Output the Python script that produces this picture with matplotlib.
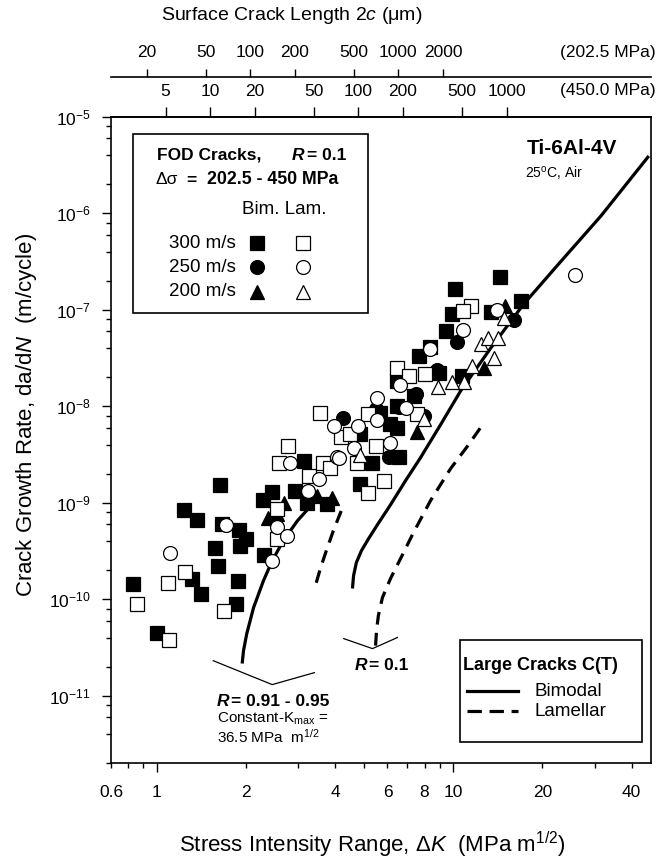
import matplotlib
matplotlib.use('Agg')
import matplotlib.pyplot as plt
from matplotlib.lines import Line2D
from matplotlib.patches import Rectangle
from matplotlib.ticker import NullFormatter, NullLocator
import numpy as np

plt.rcParams['font.family'] = ['Liberation Sans', 'DejaVu Sans']
plt.rcParams['mathtext.fontset'] = 'custom'
plt.rcParams['mathtext.rm'] = 'Liberation Sans'
plt.rcParams['mathtext.it'] = 'Liberation Sans:italic'
plt.rcParams['mathtext.bf'] = 'Liberation Sans:bold'

# ---- small-crack data (FOD cracks), dK in MPa m^1/2, da/dN in m/cycle ----
bim300_dk = [0.83, 1.0, 1.23, 1.37, 1.63, 1.57, 1.61, 1.66, 1.89, 1.90, 2.00, 1.31, 1.41, 1.88,
             1.85, 2.29, 2.28, 2.45, 2.93, 3.21, 3.13, 3.75, 10.1, 9.92, 9.42, 13.4, 16.9, 7.65,
             8.38, 6.47, 8.94, 10.7, 7.36, 6.47, 6.14, 6.47, 5.68, 4.86, 6.55, 5.33, 4.86, 14.4]
bim300_da = [1.44e-10, 4.5e-11, 8.4e-10, 6.6e-10, 1.52e-9, 3.4e-10, 2.2e-10, 6.0e-10, 5.2e-10,
             3.6e-10, 4.2e-10, 1.6e-10, 1.12e-10, 1.56e-10, 8.9e-11, 2.9e-10, 1.07e-9, 1.28e-9,
             1.33e-9, 1.0e-9, 2.7e-9, 9.7e-10, 1.64e-7, 9.0e-8, 6.05e-8, 9.4e-8, 1.24e-7, 3.3e-8,
             4.1e-8, 1.84e-8, 2.24e-8, 2.07e-8, 1.29e-8, 1.01e-8, 6.5e-9, 6.0e-9, 8.6e-9, 5.2e-9,
             2.95e-9, 2.6e-9, 1.56e-9, 2.2e-7]

lam300_dk = [0.86, 1.10, 1.09, 1.24, 1.69, 2.54, 2.55, 2.78, 2.59, 3.25, 3.64, 3.85, 11.5, 10.8,
             6.44, 7.08, 8.06, 3.56, 5.15, 7.56, 4.18, 4.50, 5.47, 4.74, 5.86, 5.15]
lam300_da = [9.0e-11, 3.8e-11, 1.47e-10, 1.9e-10, 7.6e-11, 8.6e-10, 4.2e-10, 3.9e-9, 2.6e-9,
             1.9e-9, 2.6e-9, 2.3e-9, 1.1e-7, 9.8e-8, 2.5e-8, 2.07e-8, 2.16e-8, 8.6e-9, 8.4e-9,
             8.4e-9, 4.75e-9, 5.1e-9, 3.9e-9, 2.6e-9, 1.7e-9, 1.26e-9]

bim250_dk = [16.0, 10.3, 8.83, 7.5, 6.55, 4.25, 7.96, 6.06, 5.47]
bim250_da = [7.8e-8, 4.66e-8, 2.37e-8, 1.35e-8, 9.9e-9, 7.6e-9, 8.0e-9, 2.95e-9, 9.4e-9]

lam250_dk = [1.11, 1.71, 2.45, 2.54, 2.75, 2.82, 3.23, 3.52, 3.95, 4.06, 14.1, 10.8, 8.38, 6.59,
             5.54, 6.95, 4.76, 5.54, 6.14, 4.11, 25.7, 4.61]
lam250_da = [3.0e-10, 5.9e-10, 2.5e-10, 5.6e-10, 4.5e-10, 2.6e-9, 1.33e-9, 1.76e-9, 6.3e-9,
             2.95e-9, 1.0e-7, 6.2e-8, 3.9e-8, 1.67e-8, 1.23e-8, 9.6e-9, 6.2e-9, 7.2e-9, 4.2e-9,
             2.9e-9, 2.3e-7, 3.7e-9]

bim200_dk = [15.0, 12.7, 7.56, 3.90, 3.47, 2.68, 2.38, 2.55]
bim200_da = [1.1e-7, 2.5e-8, 5.4e-9, 1.13e-9, 1.18e-9, 1.0e-9, 7.0e-10, 7.6e-10]

lam200_dk = [14.8, 12.4, 13.1, 14.2, 13.7, 11.6, 10.9, 9.92, 8.9, 7.96, 4.86]
lam200_da = [8.3e-8, 4.4e-8, 5.1e-8, 5.1e-8, 3.2e-8, 2.6e-8, 1.77e-8, 1.77e-8, 1.6e-8, 7.4e-9, 3.1e-9]

# ---- large-crack C(T) curves ----
bim_r01_dk = [4.57, 4.61, 4.71, 4.90, 5.18, 5.55, 6.14, 6.90, 7.75, 9.06, 10.6, 13.4, 17.3, 23.0,
              31.5, 45.7]
bim_r01_da = [1.29e-10, 1.75e-10, 2.39e-10, 3.18e-10, 4.24e-10, 5.92e-10, 9.5e-10, 1.69e-9,
              2.92e-9, 6.43e-9, 1.45e-8, 4.04e-8, 1.15e-7, 3.14e-7, 9.4e-7, 3.94e-6]
lam_r01_dk = [5.47, 5.51, 5.59, 5.77, 6.14, 6.64, 7.34, 8.38, 9.79, 11.2, 12.7]
lam_r01_da = [3.3e-11, 4.72e-11, 6.75e-11, 1.04e-10, 1.63e-10, 2.63e-10, 4.89e-10, 1.05e-9,
              2.25e-9, 3.9e-9, 6.75e-9]
bim_hir_dk = [1.94, 1.96, 2.01, 2.12, 2.29, 2.45, 2.67, 2.98, 3.43]
bim_hir_da = [2.15e-11, 2.92e-11, 4.38e-11, 8.2e-11, 1.56e-10, 2.5e-10, 4.04e-10, 6.5e-10,
              1.05e-9]
lam_hir_dk = [3.45, 3.56, 3.73, 3.94, 4.19]
lam_hir_da = [1.48e-10, 2.07e-10, 3.18e-10, 5.13e-10, 8.26e-10]

# ---- axes ticks ----
xtick_vals = [0.7, 1, 2, 4, 6, 8, 10, 20, 40]
xtick_labels = ['0.6', '1', '2', '4', '6', '8', '10', '20', '40']
xminor_vals = [0.8, 0.9, 3, 5, 7, 9, 30]
ytick_vals = [1e-11, 1e-10, 1e-9, 1e-8, 1e-7, 1e-6, 1e-5]
ytick_labels = ['$10^{-11}$', '$10^{-10}$', '$10^{-9}$', '$10^{-8}$', '$10^{-7}$', '$10^{-6}$', '$10^{-5}$']

# surface crack length axes: dK = k * sqrt(2c)
k450 = 0.4786
k202 = 0.2065
top450_ticks = [5, 10, 20, 50, 100, 200, 500, 1000]
top202_ticks = [20, 50, 100, 200, 500, 1000, 2000]

W, H = 662, 861
fig = plt.figure(figsize=(6.62, 8.61), dpi=100)


def fx(px):
    return px / W


def fy(py):
    return 1 - py / H


ax = fig.add_axes([fx(111), fy(763), fx(651) - fx(111), fy(117) - fy(763)])
ax.set_xscale('log')
ax.set_yscale('log')
ax.set_xlim(0.7, 46.5)
ax.set_ylim(2e-12, 1e-5)

for s in ax.spines.values():
    s.set_linewidth(1.2)

# x ticks
ax.set_xticks(xtick_vals, xtick_labels)
ax.set_xticks(xminor_vals, minor=True)
ax.xaxis.set_minor_formatter(NullFormatter())
ax.tick_params(axis='x', which='both', direction='out', top=False, labelsize=12.5,
               width=1.0, pad=12)
ax.tick_params(axis='x', which='major', length=3.6)
ax.tick_params(axis='x', which='minor', length=3.6)
for t, v in zip(ax.xaxis.get_major_ticks(), xtick_vals):
    if v in (1, 10):
        t.tick1line.set_markersize(6.5)

# y ticks
ax.set_yticks(ytick_vals, ytick_labels)
yminor = [m * 10.0 ** e for e in range(-12, -5) for m in (2, 4, 6, 8)]
yminor = [v for v in yminor if 2e-12 <= v < 1e-5]
ax.set_yticks(yminor, minor=True)
ax.yaxis.set_minor_formatter(NullFormatter())
ax.tick_params(axis='y', which='both', direction='out', right=False, labelsize=12.5,
               width=1.0, pad=8)
ax.tick_params(axis='y', which='major', length=6.5)
ax.tick_params(axis='y', which='minor', length=3.6)

# top crack-length axes
sec1 = ax.secondary_xaxis('top', functions=(lambda d: (np.abs(d) / k450) ** 2,
                                            lambda c: k450 * np.sqrt(np.abs(c))))
sec1.set_xticks(top450_ticks, [str(v) for v in top450_ticks])
sec1.xaxis.set_minor_locator(NullLocator())
sec1.tick_params(direction='out', length=7, width=1.0, labelsize=12.5, pad=6)
sec1.spines['top'].set_linewidth(1.2)

sec2 = ax.secondary_xaxis(1.062, functions=(lambda d: (np.abs(d) / k202) ** 2,
                                            lambda c: k202 * np.sqrt(np.abs(c))))
sec2.set_xticks(top202_ticks, [str(v) for v in top202_ticks])
sec2.xaxis.set_minor_locator(NullLocator())
sec2.tick_params(direction='out', length=6, width=1.0, labelsize=12.5, pad=6)
sec2.spines['top'].set_linewidth(1.2)

# curves
ax.plot(bim_r01_dk, bim_r01_da, color='black', lw=2.3, solid_capstyle='butt', zorder=2)
ax.plot(bim_hir_dk, bim_hir_da, color='black', lw=2.3, solid_capstyle='butt', zorder=2)
ax.plot(lam_r01_dk, lam_r01_da, color='black', lw=2.3, ls=(0, (4, 2.6)), zorder=2)
ax.plot(lam_hir_dk, lam_hir_da, color='black', lw=2.3, ls=(0, (4, 2.6)), zorder=2)

# markers
ms = 10
mew = 0.9
ax.plot(bim300_dk, bim300_da, 's', ms=ms, mfc='black', mec='black', mew=mew, zorder=3)
ax.plot(bim250_dk, bim250_da, 'o', ms=ms, mfc='black', mec='black', mew=mew, zorder=3)
ax.plot(bim200_dk, bim200_da, '^', ms=ms, mfc='black', mec='black', mew=mew, zorder=3)
ax.plot(lam300_dk, lam300_da, 's', ms=ms, mfc='white', mec='black', mew=mew, zorder=4)
ax.plot(lam250_dk, lam250_da, 'o', ms=ms, mfc='white', mec='black', mew=mew, zorder=4)
ax.plot(lam200_dk, lam200_da, '^', ms=ms, mfc='white', mec='black', mew=mew, zorder=4)

# brackets under curve ends
ax.plot([1.55, 2.45, 3.40], [2.3e-11, 1.3e-11, 1.73e-11], color='black', lw=0.9, clip_on=False)
ax.plot([4.27, 5.34, 6.48], [3.9e-11, 3.07e-11, 4.0e-11], color='black', lw=0.9, clip_on=False)

renderer = fig.canvas.get_renderer()


def text_runs(x, y, parts, gap=0, size=12):
    for s, kw in parts:
        t = fig.text(fx(x), fy(y), s, va='center', ha='left', fontsize=size, **kw)
        x = t.get_window_extent(renderer).x1 + gap
    return x


B = {'fontweight': 'bold'}
BI = {'fontweight': 'bold', 'fontstyle': 'italic'}

# FOD legend box
fig.add_artist(Rectangle((fx(133), fy(313)), fx(368) - fx(133), fy(134) - fy(313),
                         transform=fig.transFigure, fill=False, lw=1.2, ec='black'))
text_runs(157, 155, [('FOD Cracks,', B)], size=12.5)
text_runs(292, 155, [('R', BI)], size=12.5)
text_runs(307, 155, [('= 0.1', B)], size=12.5)
fig.text(fx(155), fy(180), 'Δσ', va='center', ha='left', fontsize=12.5)
text_runs(186, 180, [('=', B)], size=12.5)
text_runs(207, 180, [('202.5 - 450 MPa', B)], size=12.8)
fig.text(fx(242), fy(210), 'Bim. Lam.', va='center', ha='left', fontsize=13.5)
for row_y, lab, mk in [(243, '300 m/s', 's'), (267, '250 m/s', 'o'), (292, '200 m/s', '^')]:
    fig.text(fx(169), fy(row_y), lab, va='center', ha='left', fontsize=13.5)
    fig.add_artist(Line2D([fx(257)], [fy(row_y)], marker=mk, ms=ms, mfc='black', mec='black',
                          mew=mew, transform=fig.transFigure))
    fig.add_artist(Line2D([fx(303)], [fy(row_y)], marker=mk, ms=ms, mfc='white', mec='black',
                          mew=mew, transform=fig.transFigure))

# large-crack legend box
fig.add_artist(Rectangle((fx(460), fy(742)), fx(642) - fx(460), fy(640) - fy(742),
                         transform=fig.transFigure, fill=False, lw=1.2, ec='black'))
fig.text(fx(463), fy(666), 'Large Cracks C(T)', va='center', ha='left', fontsize=13,
         fontweight='bold')
fig.add_artist(Line2D([fx(467), fx(518)], [fy(691), fy(691)], color='black', lw=2.3,
                      transform=fig.transFigure))
fig.add_artist(Line2D([fx(467), fx(518)], [fy(711), fy(711)], color='black', lw=2.3,
                      ls=(0, (4.5, 2.4)), transform=fig.transFigure))
fig.text(fx(535), fy(691), 'Bimodal', va='center', ha='left', fontsize=13.5)
fig.text(fx(535), fy(711), 'Lamellar', va='center', ha='left', fontsize=13.5)

# annotations
fig.text(fx(527), fy(148), 'Ti-6Al-4V', va='center', ha='left', fontsize=15, fontweight='bold')
fig.text(fx(525), fy(173), '25$^\\mathrm{o}$C, Air', va='center', ha='left', fontsize=10)
text_runs(355, 666, [('R', BI)], size=12.5)
text_runs(369, 666, [('= 0.1', B)], size=12.5)
text_runs(217, 702, [('R', BI)], size=12.5)
text_runs(231, 702, [('= 0.91 - 0.95', B)], size=12.5)
fig.text(fx(217), fy(719), 'Constant-K$_\\mathrm{max}$ =', va='center', ha='left', fontsize=11)
fig.text(fx(217), fy(737), '36.5 MPa  m$^{1/2}$', va='center', ha='left', fontsize=11)

# axis titles
fig.text(fx(292), fy(15), 'Surface Crack Length 2$c$ ($\\mathrm{\\mu}$m)', va='center',
         ha='center', fontsize=14)
fig.text(fx(656), fy(53), '(202.5 MPa)', va='center', ha='right', fontsize=12.5)
fig.text(fx(656), fy(90), '(450.0 MPa)', va='center', ha='right', fontsize=12.5)
fig.text(fx(372), fy(845), 'Stress Intensity Range, Δ$K$  (MPa m$^{1/2}$)', va='center',
         ha='center', fontsize=16)
fig.text(fx(27), fy(415), 'Crack Growth Rate, da/d$N$  (m/cycle)', va='center', ha='center',
         rotation=90, fontsize=16)

fig.savefig('out.png', dpi=100)
